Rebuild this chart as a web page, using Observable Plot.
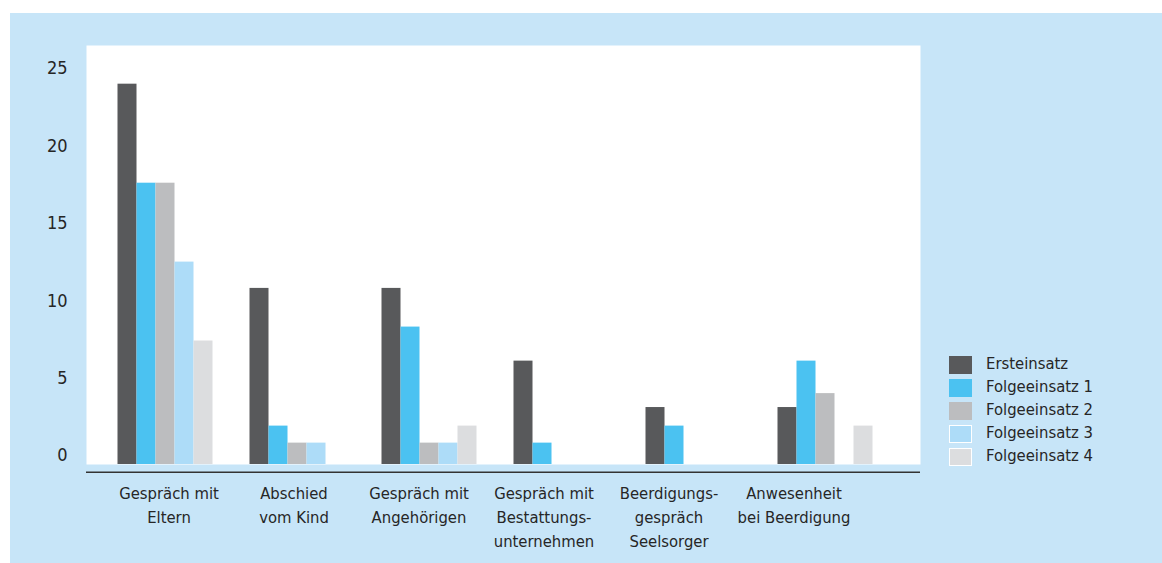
<!DOCTYPE html>
<html>
<head>
<meta charset="utf-8">
<script src="https://cdn.jsdelivr.net/npm/d3@7"></script>
<script src="https://cdn.jsdelivr.net/npm/@observablehq/plot@0.6"></script>
<style>
  html, body { margin: 0; padding: 0; background: #ffffff; }
  body { width: 1162px; height: 563px; overflow: hidden; position: relative;
         font-family: "DejaVu Sans Condensed", "DejaVu Sans", "Liberation Sans", sans-serif; font-stretch: condensed; }
  #panel { position: absolute; left: 10px; top: 13px; width: 1152px; height: 550px; background: #c7e5f8; }
  #panel svg { position: absolute; left: 0; top: 0; }
  #legend { position: absolute; left: 939px; top: 340px; color: #262626; font-size: 16.5px; }
  .row { display: flex; align-items: center; height: 23px; }
  .sw { width: 23px; height: 18px; box-sizing: border-box; }
  .lab { margin-left: 14px; position: relative; top: -1px; white-space: nowrap; }
</style>
</head>
<body>
<div id="panel"><div id="legend"></div></div>
<script>
// ---- data ----
const categories = [
  "Gespräch mit Eltern",
  "Abschied vom Kind",
  "Gespräch mit Angehörigen",
  "Gespräch mit Bestattungsunternehmen",
  "Beerdigungsgespräch Seelsorger",
  "Anwesenheit bei Beerdigung"
];
const categoryLabels = [
  "Gespräch mit\nEltern",
  "Abschied\nvom Kind",
  "Gespräch mit\nAngehörigen",
  "Gespräch mit\nBestattungs-\nunternehmen",
  "Beerdigungs-\ngespräch\nSeelsorger",
  "Anwesenheit\nbei Beerdigung"
];
const series = ["Ersteinsatz", "Folgeeinsatz 1", "Folgeeinsatz 2", "Folgeeinsatz 3", "Folgeeinsatz 4"];
const ersteinsatz   = [24.0, 10.8, 10.8, 6.1, 3.1, 3.1];
const folgeeinsatz1 = [17.6, 1.9, 8.3, 0.8, 1.9, 6.1];
const folgeeinsatz2 = [17.6, 0.8, 0.8, null, null, 4.0];
const folgeeinsatz3 = [12.5, 0.8, 0.8, null, null, null];
const folgeeinsatz4 = [7.4, null, 1.9, null, null, 1.9];
const yTicks = [0, 5, 10, 15, 20, 25];

// ---- styles ----
const palette = ["#58595b", "#4bc2f1", "#bcbdbf", "#addcf8", "#dcdddf"];
const font = '"DejaVu Sans Condensed", "DejaVu Sans", "Liberation Sans", sans-serif';
const textColor = "#262626";

const seriesValues = [ersteinsatz, folgeeinsatz1, folgeeinsatz2, folgeeinsatz3, folgeeinsatz4];
const rows = [];
series.forEach((s, si) => {
  categories.forEach((c, ci) => {
    const v = seriesValues[si][ci];
    if (v != null) rows.push({category: c, series: s, value: v});
  });
});
const labelOf = new Map(categories.map((c, i) => [c, categoryLabels[i]]));

const W = 1152, H = 550;
const margins = {marginLeft: 76, marginRight: 242, marginTop: 32, marginBottom: 99};
const yBase = -0.582;
const slot = 19, band = 132, groupOffset = 18.5;

const bars = series.map((s, i) =>
  Plot.barY(rows.filter(d => d.series === s), {
    x: "category",
    y1: yBase,
    y2: "value",
    fill: "series",
    insetLeft: groupOffset + slot * i,
    insetRight: band - groupOffset - slot * (i + 1)
  })
);

const main = Plot.plot({
  width: W, height: H, ...margins,
  style: {background: "transparent", fontFamily: font, color: textColor},
  x: {type: "band", domain: categories, range: [88.5, 880.5], padding: 0, axis: null},
  y: {domain: [yBase, 26.5], axis: null},
  color: {domain: series, range: palette},
  marks: [
    Plot.frame({fill: "white", stroke: "none"}),
    Plot.ruleY([yBase], {dy: 7.7, stroke: "#333333", strokeWidth: 1.6}),
    ...bars,
    Plot.axisY({ticks: yTicks, tickSize: 0, tickPadding: 19, fontSize: 18, label: null, fill: textColor})
  ]
});

const labels = Plot.plot({
  width: W, height: H, ...margins,
  style: {background: "transparent", fontFamily: font, color: textColor},
  x: {type: "band", domain: categories, range: [94.7, 847.1], padding: 0},
  marks: [
    Plot.axisX({tickSize: 0, tickPadding: 17, fontSize: 16.5, lineHeight: 1.4545,
      tickFormat: d => labelOf.get(d), label: null, fill: textColor})
  ]
});

const panel = document.getElementById("panel");
panel.insertBefore(main, panel.firstChild);
panel.insertBefore(labels, main.nextSibling);

// legend
const legend = document.getElementById("legend");
series.forEach((s, i) => {
  const row = document.createElement("div");
  row.className = "row";
  const sw = document.createElement("div");
  sw.className = "sw";
  sw.style.background = palette[i];
  if (i >= 3) sw.style.border = "1px solid #ffffff";
  const lab = document.createElement("span");
  lab.className = "lab";
  lab.textContent = s;
  row.appendChild(sw);
  row.appendChild(lab);
  legend.appendChild(row);
});
</script>
</body>
</html>
